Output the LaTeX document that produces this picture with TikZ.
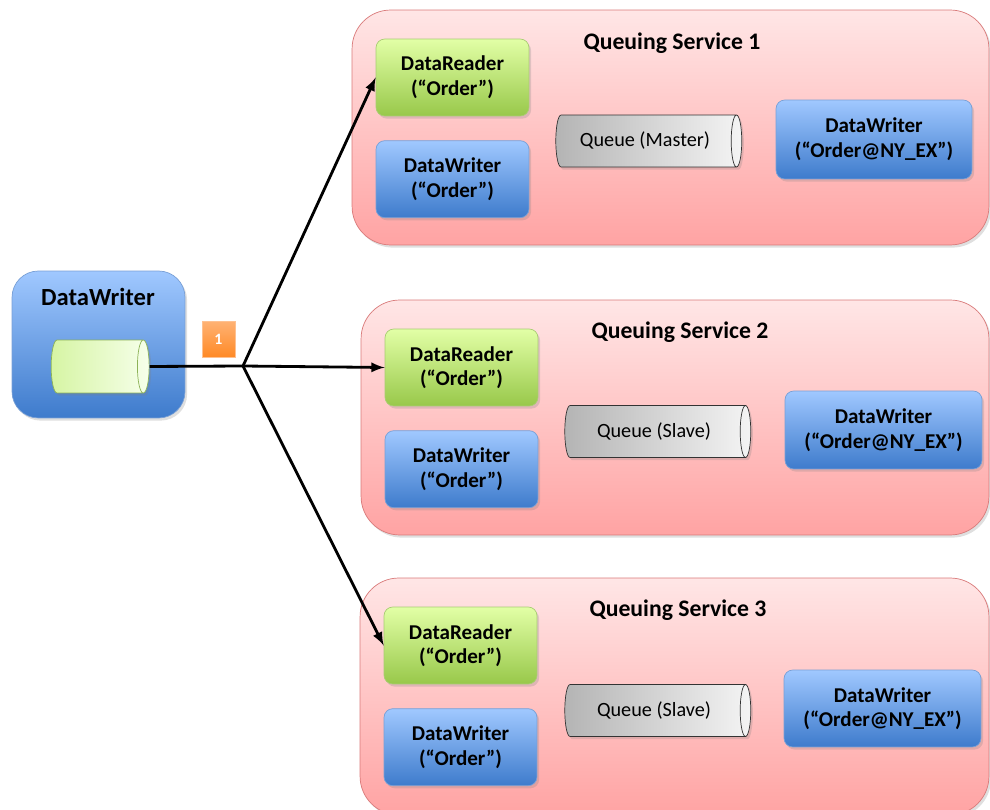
\documentclass[tikz,border=0pt]{standalone}
\usepackage{fontspec}
\setmainfont{Carlito}
\usetikzlibrary{shapes,arrows,positioning,shadows}

\definecolor{svctop}{HTML}{FFE6E6}
\definecolor{svcbot}{HTML}{FFA3A3}
\definecolor{svcline}{HTML}{D97A7A}
\definecolor{rdtop}{HTML}{E2FFA6}
\definecolor{rdbot}{HTML}{98C84A}
\definecolor{rdline}{HTML}{A9CC73}
\definecolor{wrtop}{HTML}{A0C8FF}
\definecolor{wrbot}{HTML}{3E7BCC}
\definecolor{wrline}{HTML}{79A0D6}
\definecolor{qleft}{HTML}{B4B4B4}
\definecolor{qright}{HTML}{F4F4F4}
\definecolor{cylleft}{HTML}{D6F5A4}
\definecolor{cylright}{HTML}{F6FFEA}
\definecolor{cylline}{HTML}{8DB257}
\definecolor{badgetop}{HTML}{FFB274}
\definecolor{badgebot}{HTML}{FF8A26}

\begin{document}
\begin{tikzpicture}[
    x=0.02cm, y=-0.02cm,
    node distance=0.48cm,
    soft/.style={drop shadow={shadow xshift=1.2pt, shadow yshift=-1.5pt, opacity=0.25}},
    service/.style={rectangle, draw=svcline, top color=svctop, bottom color=svcbot, rounded corners=22pt, soft},
    title/.style={font=\bfseries\fontsize{13.5}{16}\selectfont},
    reader/.style={rectangle, draw=rdline, top color=rdtop, bottom color=rdbot, rounded corners=5pt, minimum width=3.06cm, minimum height=1.54cm, align=center, font=\bfseries\fontsize{12}{14}\selectfont, soft},
    writer/.style={rectangle, draw=wrline, top color=wrtop, bottom color=wrbot, rounded corners=5pt, minimum width=3.06cm, minimum height=1.54cm, align=center, font=\bfseries\fontsize{12}{14}\selectfont, soft},
    queue/.style={cylinder, draw=black!80, left color=qleft, right color=qright, aspect=0.5, minimum height=3.72cm, minimum width=1.04cm, inner sep=1pt, font=\fontsize{11.5}{14}\selectfont, soft},
    badge/.style={rectangle, draw=badgetop!80!white, top color=badgetop, bottom color=badgebot, minimum width=0.66cm, minimum height=0.72cm, inner sep=0pt, text=white, font=\bfseries\fontsize{9}{10}\selectfont},
    arrow/.style={-latex, line width=1.6pt}
]
\useasboundingbox (0,0) rectangle (990,810);

% source
\node[writer, rounded corners=15pt, minimum width=3.46cm, minimum height=2.94cm] (src) at (98.5,344.5) {};
\node[title, font=\bfseries\fontsize{14}{16}\selectfont] (srctitle) at (98,297) {DataWriter};
\node[cylinder, draw=cylline, left color=cylleft, right color=cylright, aspect=0.5, minimum height=1.96cm, minimum width=1.06cm, inner sep=1pt, soft] (srccyl) at (96,366.5) {\rule{0pt}{0.4cm}};
\node[badge] (one) at (218.5,339) {1};

% queuing services
\node[service, minimum width=12.74cm, minimum height=4.7cm] (svc1) at (670.5,127.5) {};
\node[service, minimum width=12.56cm, minimum height=4.7cm] (svc2) at (675,417.5) {};
\node[service, minimum width=12.58cm, minimum height=4.74cm] (svc3) at (674.5,696.5) {};

\node[title] (t1) at (672,43) {Queuing Service 1};
\node[title] (t2) at (680,332) {Queuing Service 2};
\node[title] (t3) at (678,610) {Queuing Service 3};

\node[reader] (dr1) at (452.5,77.5) {DataReader\\(“Order”)};
\node[writer, below=of dr1] (dw1) {DataWriter\\(“Order”)};
\node[queue] (q1) at (645,141) {Queue (Master)};
\node[writer, minimum width=3.92cm, minimum height=1.58cm] (ny1) at (874,139.5) {DataWriter\\(“Order@NY\_EX”)};

\node[reader] (dr2) at (461.5,367.5) {DataReader\\(“Order”)};
\node[writer, below=of dr2] (dw2) {DataWriter\\(“Order”)};
\node[queue] (q2) at (654,431.5) {Queue (Slave)};
\node[writer, minimum width=3.94cm, minimum height=1.56cm] (ny2) at (883.5,430) {DataWriter\\(“Order@NY\_EX”)};

\node[reader] (dr3) at (460.5,645.5) {DataReader\\(“Order”)};
\node[writer, below=of dr3] (dw3) {DataWriter\\(“Order”)};
\node[queue] (q3) at (654,710.5) {Queue (Slave)};
\node[writer, minimum width=3.94cm, minimum height=1.54cm] (ny3) at (882.5,708.5) {DataWriter\\(“Order@NY\_EX”)};

% fan out
\coordinate (fork) at (243,366);
\draw[line width=1.6pt] (srccyl.east) -- (fork);
\draw[arrow] (fork) -- (dr1.west);
\draw[arrow] (fork) -- (dr2.west);
\draw[arrow] (fork) -- (dr3.west);

\end{tikzpicture}
\end{document}
